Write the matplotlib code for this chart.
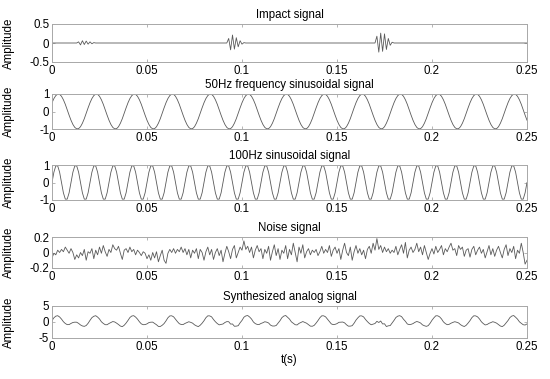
import numpy as np
import matplotlib
matplotlib.use("Agg")
import matplotlib.pyplot as plt

# time axis: 1 ms sampling, 0 .. 0.25 s
t_start = 0.0
t_step = 0.001
n_samples = 251

# one period of each sinusoid (1 ms spacing)
sine50_period = [0.50, 0.74, 0.91, 0.99, 0.98, 0.87, 0.67, 0.41, 0.10, -0.21,
                 -0.50, -0.74, -0.91, -0.99, -0.98, -0.87, -0.67, -0.41, -0.10, 0.21]
sine100_period = [0.00, 0.59, 0.95, 0.95, 0.59, 0.00, -0.59, -0.95, -0.95, -0.59]

# impact bursts: start sample index and burst values
burst_starts = [14, 93, 171]
burst_values = [
    [0.03, -0.05, 0.06, -0.04, 0.05, -0.03, 0.03, -0.02, 0.01],
    [0.12, -0.18, 0.21, -0.16, 0.14, -0.10, 0.06, -0.03, 0.01],
    [0.18, -0.24, 0.26, -0.22, 0.24, -0.17, 0.12, -0.06, 0.02],
]

noise_values = [
    -0.07, -0.01, -0.03, 0.03, 0.00, 0.04, 0.01, 0.07, 0.03, -0.01, 0.05, 0.00, -0.09,
    -0.03, -0.07, 0.00, -0.04, 0.04, -0.10, 0.01, -0.01, 0.05, -0.08, 0.03, -0.03,
    0.07, -0.01, 0.09, 0.01, -0.05, 0.04, 0.00, 0.10, 0.05, 0.03, 0.08, -0.01, -0.09,
    0.03, 0.05, 0.00, 0.07, 0.01, 0.04, -0.03, 0.03, 0.00, -0.04, 0.01, -0.01,
    -0.08, -0.03, -0.10, 0.00, -0.07, 0.01, -0.12, -0.04, 0.03, -0.10, -0.14, -0.01,
    0.04, 0.00, 0.05, -0.01, 0.04, 0.01, 0.07, 0.00, 0.05, -0.03, 0.04, -0.07, 0.03,
    -0.01, 0.05, -0.08, 0.04, 0.00, -0.10, 0.01, 0.07, -0.03, 0.04, -0.09, 0.00,
    0.05, -0.04, 0.03, -0.12, -0.01, 0.08, 0.01, -0.08, 0.04, 0.09, -0.07, 0.00, 0.07,
    0.03, 0.15, 0.04, 0.08, 0.00, 0.07, -0.07, 0.03, 0.09, 0.01, 0.05, -0.08, 0.04,
    -0.01, 0.08, -0.10, 0.01, 0.10, -0.04, 0.05, -0.09, 0.03, -0.01, 0.09, -0.08,
    0.04, -0.03, 0.12, 0.00, -0.12, 0.07, -0.01, 0.10, -0.07, 0.01, 0.05, -0.03, 0.03,
    0.00, 0.04, -0.04, 0.01, 0.08, -0.01, 0.04, 0.00, 0.09, -0.05, 0.03, 0.07,
    -0.01, 0.05, -0.09, 0.03, 0.12, 0.00, -0.04, 0.07, -0.10, 0.01, 0.09, -0.01, 0.05,
    -0.03, 0.03, -0.08, 0.04, 0.08, -0.01, 0.12, 0.03, 0.18, 0.04, 0.09, 0.00,
    0.07, 0.01, 0.05, -0.01, 0.03, 0.00, 0.08, -0.03, 0.04, 0.10, -0.01, 0.13, -0.07,
    0.03, 0.07, 0.00, 0.04, 0.12, 0.01, 0.07, -0.03, 0.09, 0.00, -0.09, -0.01,
    0.05, -0.02, 0.08, 0.00, 0.04, 0.09, -0.03, 0.05, 0.01, 0.07, 0.12, 0.03, 0.05,
    -0.04, 0.09, 0.04, 0.07, -0.05, 0.03, 0.05, -0.06, 0.04, 0.08, -0.03, 0.03,
    0.07, -0.01, 0.04, -0.07, 0.01, 0.09, -0.03, 0.05, -0.05, 0.03, 0.08, 0.00, -0.07,
    0.04, 0.10, -0.04, 0.05, 0.00, 0.08, -0.08, 0.03, -0.01, 0.12, 0.00, -0.15, -0.10,
]

titles = ["Impact signal", "50Hz frequency sinusoidal signal",
          "100Hz sinusoidal signal", "Noise signal", "Synthesized analog signal"]
ylims = [(-0.5, 0.5), (-1, 1), (-1, 1), (-0.2, 0.2), (-5, 5)]
ytick_labels = [["-0.5", "0", "0.5"], ["-1", "0", "1"], ["-1", "0", "1"],
                ["-0.2", "0", "0.2"], ["-5", "0", "5"]]
xticks = [0, 0.05, 0.1, 0.15, 0.2, 0.25]
xtick_labels = ["0", "0.05", "0.1", "0.15", "0.2", "0.25"]

# --- build the series ---
t = t_start + t_step * np.arange(n_samples)
s50 = np.tile(sine50_period, n_samples // len(sine50_period) + 1)[:n_samples]
s100 = np.tile(sine100_period, n_samples // len(sine100_period) + 1)[:n_samples]
impact = np.zeros(n_samples)
for start, vals in zip(burst_starts, burst_values):
    impact[start:start + len(vals)] = vals
noise = np.array(noise_values)
synth = impact + s50 + s100 + noise
series = [impact, s50, s100, noise, synth]

plt.rcParams["font.family"] = ["Liberation Sans", "DejaVu Sans"]
W, H = 550, 379
fig = plt.figure(figsize=(W / 100, H / 100), dpi=100)

# axes boxes in pixels (top, bottom)
boxes = [(24, 62), (94, 129), (165, 200), (237, 268), (306, 338)]
left, right = 52, 527
line_color = "#5a5a5a"
frame_color = "#a8a8a8"
fs = 8.3

for i, (y, (top, bot)) in enumerate(zip(series, boxes)):
    ax = fig.add_axes([left / W, 1 - bot / H, (right - left) / W, (bot - top) / H])
    ax.plot(t, y, color=line_color, linewidth=0.6)
    ax.set_xlim(0, 0.25)
    ax.set_ylim(*ylims[i])
    lo, hi = ylims[i]
    ax.set_yticks([lo, 0, hi])
    ax.set_yticklabels(ytick_labels[i])
    ax.set_xticks(xticks)
    ax.set_xticklabels(xtick_labels)
    ax.tick_params(direction="in", length=2.5, width=0.6, color=frame_color,
                   labelsize=fs, pad=2, top=True, right=True)
    for sp in ax.spines.values():
        sp.set_color(frame_color)
        sp.set_linewidth(0.7)
    ax.set_title(titles[i], fontsize=fs, pad=4)
    ax.set_ylabel("Amplitude", fontsize=fs)
    ax.yaxis.set_label_coords(-0.078, 0.5)
    if i == len(series) - 1:
        ax.set_xlabel("t(s)", fontsize=fs, labelpad=1)

fig.savefig("out.png", dpi=100)
